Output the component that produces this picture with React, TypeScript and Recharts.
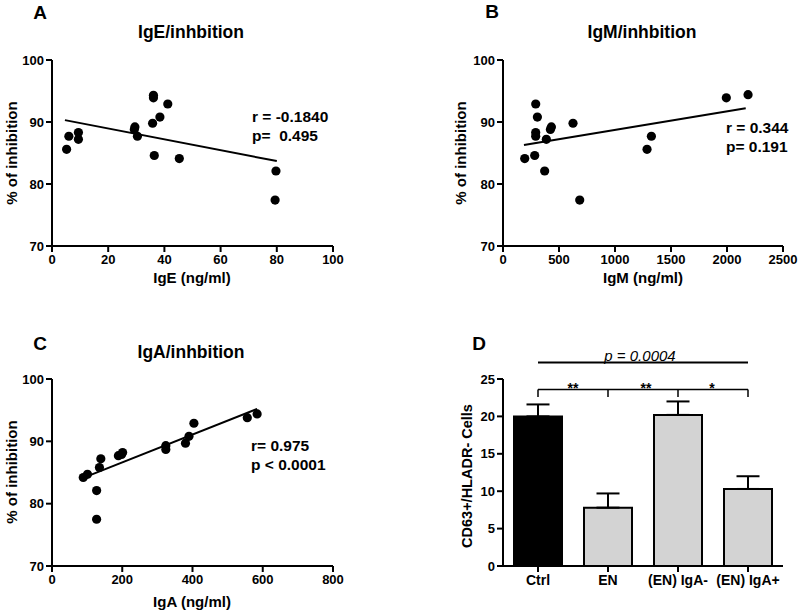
import React from 'react';
import {
  ScatterChart, Scatter, XAxis, YAxis, ReferenceLine, BarChart, Bar, Cell, ErrorBar,
} from 'recharts';

// Panel A: IgE vs % inhibition
const igeValues = [5.2, 6.0, 9.4, 9.4, 29.5, 29.3, 30.4, 36.1, 36.1, 41.2, 38.4, 35.8, 36.4, 45.3, 79.7, 79.4];
const inhibitionA = [85.6, 87.7, 88.3, 87.2, 89.2, 88.8, 87.7, 94.3, 93.9, 92.9, 90.8, 89.8, 84.6, 84.1, 82.1, 77.4];
const fitA = [{ x: 4.6, y: 90.3 }, { x: 80, y: 83.7 }];

// Panel B: IgM vs % inhibition
const igmValues = [194, 292, 307, 292, 292, 283, 387, 372, 423, 432, 625, 685, 1286, 1325, 1994, 2188];
const inhibitionB = [84.1, 92.9, 90.8, 88.3, 87.7, 84.6, 87.2, 82.1, 88.8, 89.2, 89.8, 77.4, 85.6, 87.7, 93.9, 94.4];
const fitB = [{ x: 187, y: 86.3 }, { x: 2167, y: 92.2 }];

// Panel C: IgA vs % inhibition
const igaValues = [89, 101, 139, 135, 127, 127, 189, 201, 198, 324, 324, 380, 390, 404, 556, 584];
const inhibitionC = [84.2, 84.7, 87.2, 85.8, 82.1, 77.5, 87.7, 88.2, 87.9, 89.3, 88.7, 89.7, 90.8, 92.9, 93.8, 94.4];
const fitC = [{ x: 87, y: 84.1 }, { x: 584, y: 95.2 }];

// Panel D: bars
const groups = ['Ctrl', 'EN', '(EN) IgA-', '(EN) IgA+'];
const groupMeans = [20.0, 7.8, 20.2, 10.3];
const groupSem = [1.6, 1.9, 1.8, 1.7];
const groupColors = ['#000000', '#d3d3d3', '#d3d3d3', '#d3d3d3'];

const inhTicks = [70, 80, 90, 100];
const igeTicks = [0, 20, 40, 60, 80, 100];
const igmTicks = [0, 500, 1000, 1500, 2000, 2500];
const igaTicks = [0, 200, 400, 600, 800];
const cellTicks = [0, 5, 10, 15, 20, 25];

const FONT = '"Liberation Sans", Arial, Helvetica, sans-serif';
const tickStyle = { fill: '#000', fontSize: 13, fontWeight: 700, fontFamily: FONT };
const axisLine = { stroke: '#000', strokeWidth: 2 };

const zip = (xs: number[], ys: number[]) => xs.map((x, i) => ({ x, y: ys[i] }));

type TProps = {
  x: number; y: number; size: number; children: React.ReactNode;
  anchor?: 'middle' | 'start'; italic?: boolean; weight?: number; rotate?: boolean;
};
const T = ({ x, y, size, children, anchor = 'middle', italic, weight = 700, rotate }: TProps) => (
  <div
    style={{
      position: 'absolute', left: x, top: y, fontSize: size, fontFamily: FONT,
      fontWeight: weight, fontStyle: italic ? 'italic' : 'normal', lineHeight: 1,
      whiteSpace: 'pre', color: '#000',
      transform: `translate(${anchor === 'middle' ? '-50%' : '0'}, -50%)${rotate ? ' rotate(-90deg)' : ''}`,
      transformOrigin: anchor === 'middle' ? 'center' : 'left center',
    }}
  >
    {children}
  </div>
);

const Dot = (props: any) => <circle cx={props.cx} cy={props.cy} r={4.6} fill="#000" />;

type SP = {
  left: number; top: number; height: number; marginTop: number; marginLeft: number; marginRight: number;
  marginBottom: number; data: { x: number; y: number }[]; xTicks: number[]; fit: { x: number; y: number }[];
};
const ScatterPanel = ({ left, top, height, marginTop, marginLeft, marginRight, marginBottom, data, xTicks, fit }: SP) => (
  <div style={{ position: 'absolute', left, top }}>
    <ScatterChart width={400} height={height}
      margin={{ top: marginTop, left: marginLeft, right: marginRight, bottom: marginBottom }}>
      <XAxis type="number" dataKey="x" domain={[xTicks[0], xTicks[xTicks.length - 1]]} ticks={xTicks}
        interval={0} height={40} tick={tickStyle} axisLine={axisLine} tickLine={axisLine} tickSize={6}
        tickMargin={3} allowDataOverflow />
      <YAxis type="number" dataKey="y" domain={[70, 100]} ticks={inhTicks} interval={0} width={30}
        tick={tickStyle} axisLine={axisLine} tickLine={axisLine} tickSize={6} tickMargin={2} allowDataOverflow />
      <ReferenceLine segment={fit} stroke="#000" strokeWidth={2} ifOverflow="visible" />
      <Scatter data={data} shape={Dot} isAnimationActive={false} />
    </ScatterChart>
  </div>
);

const barData = groups.map((name, i) => ({ name, mean: groupMeans[i], err: [0, groupSem[i]] }));

export default function App() {
  return (
    <div style={{ position: 'absolute', left: 0, top: 0, width: 800, height: 612, background: '#fff', overflow: 'hidden' }}>
      {/* Panel A */}
      <ScatterPanel left={0} top={0} height={310} marginTop={60} marginLeft={22} marginRight={67}
        marginBottom={24} data={zip(igeValues, inhibitionA)} xTicks={igeTicks} fit={fitA} />
      <T x={40} y={12} size={19}>A</T>
      <T x={191} y={33} size={17.5}>IgE/inhbition</T>
      <T x={192} y={277} size={15}>IgE (ng/ml)</T>
      <T x={11} y={153} size={15} rotate>% of inhibition</T>
      <T x={252} y={117} size={15.5} anchor="start">r = -0.1840</T>
      <T x={252} y={136} size={15.5} anchor="start">p=  0.495</T>

      {/* Panel B */}
      <ScatterPanel left={400} top={0} height={310} marginTop={60} marginLeft={73} marginRight={17}
        marginBottom={24} data={zip(igmValues, inhibitionB)} xTicks={igmTicks} fit={fitB} />
      <T x={492} y={11} size={19}>B</T>
      <T x={642} y={33} size={17.5}>IgM/inhbition</T>
      <T x={643} y={277} size={15}>IgM (ng/ml)</T>
      <T x={460} y={153} size={15} rotate>% of inhibition</T>
      <T x={726} y={128} size={15.5} anchor="start">r = 0.344</T>
      <T x={726} y={147} size={15.5} anchor="start">p= 0.191</T>

      {/* Panel C */}
      <ScatterPanel left={0} top={310} height={302} marginTop={69} marginLeft={22} marginRight={67}
        marginBottom={6} data={zip(igaValues, inhibitionC)} xTicks={igaTicks} fit={fitC} />
      <T x={40} y={343} size={19}>C</T>
      <T x={191} y={353} size={17.5}>IgA/inhbition</T>
      <T x={192} y={601} size={15}>IgA (ng/ml)</T>
      <T x={11} y={472} size={15} rotate>% of inhibition</T>
      <T x={251} y={446} size={15.5} anchor="start">r= 0.975</T>
      <T x={251} y={465} size={15.5} anchor="start">p {'<'} 0.0001</T>

      {/* Panel D */}
      <div style={{ position: 'absolute', left: 400, top: 310 }}>
        <BarChart width={400} height={302} data={barData}
          margin={{ top: 69, left: 63, right: 17, bottom: 16 }}>
          <XAxis dataKey="name" type="category" height={30} interval={0}
            tick={{ ...tickStyle, fontSize: 14 }} axisLine={axisLine} tickLine={axisLine} tickSize={6} tickMargin={3} />
          <YAxis type="number" domain={[0, 25]} ticks={cellTicks} interval={0} width={40}
            tick={tickStyle} axisLine={axisLine} tickLine={axisLine} tickSize={6} tickMargin={2} />
          <Bar dataKey="mean" barSize={48} stroke="#000" strokeWidth={2} isAnimationActive={false}>
            {barData.map((d, i) => (
              <Cell key={d.name} fill={groupColors[i]} />
            ))}
            <ErrorBar dataKey="err" direction="y" width={11.5} stroke="#000" strokeWidth={2} isAnimationActive={false} />
          </Bar>
          <ReferenceLine segment={[{ x: groups[0], y: 27.2 }, { x: groups[3], y: 27.2 }]} stroke="#000" strokeWidth={2} ifOverflow="visible" />
          <ReferenceLine segment={[{ x: groups[0], y: 23.6 }, { x: groups[1], y: 23.6 }]} stroke="#000" strokeWidth={1.5} ifOverflow="visible" />
          <ReferenceLine segment={[{ x: groups[0], y: 23.6 }, { x: groups[0], y: 22.6 }]} stroke="#000" strokeWidth={1.5} ifOverflow="visible" />
          <ReferenceLine segment={[{ x: groups[1], y: 23.6 }, { x: groups[1], y: 22.6 }]} stroke="#000" strokeWidth={1.5} ifOverflow="visible" />
          <ReferenceLine segment={[{ x: groups[1], y: 23.6 }, { x: groups[2], y: 23.6 }]} stroke="#000" strokeWidth={1.5} ifOverflow="visible" />
          <ReferenceLine segment={[{ x: groups[2], y: 23.6 }, { x: groups[2], y: 22.6 }]} stroke="#000" strokeWidth={1.5} ifOverflow="visible" />
          <ReferenceLine segment={[{ x: groups[2], y: 23.6 }, { x: groups[3], y: 23.6 }]} stroke="#000" strokeWidth={1.5} ifOverflow="visible" />
          <ReferenceLine segment={[{ x: groups[3], y: 23.6 }, { x: groups[3], y: 22.6 }]} stroke="#000" strokeWidth={1.5} ifOverflow="visible" />
        </BarChart>
      </div>
      <T x={479} y={343} size={19}>D</T>
      <T x={640} y={355} size={15} weight={400} italic>p = 0.0004</T>
      <T x={573} y={388} size={14}>**</T>
      <T x={646} y={388} size={14}>**</T>
      <T x={712} y={388} size={14}>*</T>
      <T x={467} y={476} size={14.5} rotate>CD63+/HLADR- Cells</T>
    </div>
  );
}
